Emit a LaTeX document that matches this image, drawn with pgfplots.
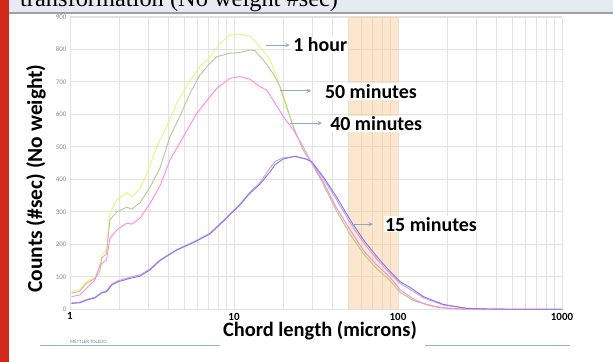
\documentclass[border=0pt]{standalone}
\usepackage{pgfplots}
\pgfplotsset{compat=1.18}
\usepackage{fontspec}
\setmainfont{Carlito}
\newfontfamily\titlefont{Liberation Serif}
\definecolor{cone}{RGB}{240,240,125}
\definecolor{cfifty}{RGB}{178,202,152}
\definecolor{cforty}{RGB}{255,135,240}
\definecolor{cfifteen}{RGB}{138,118,232}
\definecolor{clav}{RGB}{198,160,226}
\definecolor{arrowc}{RGB}{140,170,205}
\definecolor{shadec}{RGB}{250,200,140}
\definecolor{gridc}{RGB}{226,226,226}
\definecolor{redbar}{RGB}{210,40,26}
\definecolor{band}{RGB}{230,235,242}
\definecolor{linec}{RGB}{150,175,208}
\begin{document}
\begin{tikzpicture}
\useasboundingbox (0,0) rectangle (613bp,362bp);
\fill[white] (0,0) rectangle (613bp,362bp);
\fill[band] (0,349bp) rectangle (613bp,362bp);
\begin{scope}
\clip (0,349bp) rectangle (613bp,362bp);
\node[anchor=base west, inner sep=0] at (20bp,355.5bp) {\titlefont\fontsize{24.5}{24.5}\selectfont transformation (No weight \#sec)};
\end{scope}
\draw[gray!75, line width=1.6bp] (0,349bp) -- (613bp,349bp);
\fill[redbar] (0,0) rectangle (9bp,362bp);
% bottom decorations
\draw[linec, line width=0.9bp] (40bp,17bp) -- (220bp,17bp);
\draw[linec, line width=0.9bp] (425bp,17bp) -- (570bp,17bp);
\node[anchor=base west, inner sep=0, text=gray, font=\fontsize{5}{5}\selectfont] at (70bp,19bp) {METTLER TOLEDO};

\begin{axis}[
  at={(70bp,52.7bp)}, anchor=south west,
  scale only axis, width=492bp, height=292.5bp,
  xmode=log, xmin=1, xmax=1000, ymin=0, ymax=900,
  axis line style={gridc},
  grid=both, major grid style={gridc, line width=0.6bp}, minor grid style={gridc, line width=0.6bp},
  ytick={0,100,...,900}, minor y tick num=0,
  xtick={1,10,100,1000}, xticklabels={1,10,100,1000},
  major tick length=0pt, minor tick length=0pt,
  /pgf/number format/assume math mode=true,
  yticklabel style={font=\fontsize{7}{7}\selectfont, text=gray!90},
  xticklabel style={font=\bfseries\fontsize{11}{11}\selectfont, text=black},
  clip=false,
]
% shaded region 50-100 microns
\addplot[draw=none, fill=shadec, fill opacity=0.42] coordinates {(50,0) (50,900) (100,900) (100,0)} \closedcycle;

% 1 hour
\addplot[cone, line width=0.9bp] coordinates {
(1.02,54) (1.15,61) (1.26,85) (1.42,100) (1.52,126) (1.56,167) (1.67,182) (1.75,295) (1.93,336) (2.22,359) (2.38,346) (2.67,370) (2.94,418) (3.38,500) (3.89,562) (4.47,634) (5.40,705) (6.2,746) (7.14,777) (8.22,818) (9.45,844) (10.87,847) (12.5,841) (14.4,808) (16.6,767) (18.25,716) (20.0,644) (23.0,562) (26.4,490) (29.1,459) (35.0,388) (42.2,305) (51.1,234) (61.7,172) (74.3,126) (89.5,90) (103,54) (124,28) (157,12) (200,4) (260,1) (400,0) (1000,0)};
% 50 minutes
\addplot[cfifty, line width=0.9bp] coordinates {
(1.02,49) (1.15,56) (1.26,80) (1.42,95) (1.52,116) (1.56,157) (1.67,172) (1.75,275) (1.93,300) (2.22,314) (2.38,308) (2.67,328) (3.07,375) (3.54,435) (4.07,531) (4.67,593) (5.40,665) (6.2,721) (7.14,757) (7.85,777) (9.45,788) (10.87,790) (12.5,798) (13.4,796) (15.1,767) (17.3,726) (19.1,685) (21.0,623) (23.0,562) (26.4,490) (29.1,459) (35.0,385) (42.2,302) (51.1,230) (61.7,170) (74.3,124) (89.5,88) (103,52) (124,27) (157,11) (200,3) (260,1) (400,0) (1000,0)};
% 40 minutes
\addplot[cforty, line width=0.9bp] coordinates {
(1.02,39) (1.15,44) (1.26,65) (1.42,90) (1.52,136) (1.67,152) (1.75,218) (1.93,244) (2.22,265) (2.38,262) (2.67,280) (3.07,325) (3.54,380) (4.07,459) (4.91,531) (5.93,603) (7.14,654) (7.85,680) (8.6,695) (9.45,711) (10.87,716) (12.5,708) (14.4,685) (15.8,675) (17.3,644) (20.0,593) (23.0,552) (26.4,500) (29.1,459) (35.0,392) (42.2,312) (51.1,244) (61.7,180) (74.3,136) (89.5,98) (103,60) (124,32) (143,18) (175,6) (230,1) (300,0) (1000,0)};
% second curve close to 15 minutes
\addplot[clav, line width=0.9bp] coordinates {
(1.02,20) (1.15,22) (1.26,30) (1.42,37) (1.56,52) (1.67,57) (1.80,78) (1.97,88) (2.32,99) (2.67,106) (3.07,124) (3.54,152) (4.47,184) (5.65,207) (7.14,234) (9.0,283) (10.87,324) (12.5,360) (14.4,390) (16.6,435) (17.8,455) (19.9,466) (23.5,470) (27.8,461) (29.8,452) (35.0,402) (42.2,338) (51.1,266) (61.7,205) (74.3,154) (89.5,110) (103,80) (118,62) (143,35) (189,13) (262,3) (347,1) (500,0) (1000,0)};
% 15 minutes
\addplot[cfifteen, line width=0.9bp] coordinates {
(1.02,18) (1.15,20) (1.26,28) (1.42,35) (1.56,50) (1.67,54) (1.80,75) (1.97,85) (2.32,95) (2.67,102) (3.07,121) (3.54,150) (4.47,182) (5.65,205) (7.14,232) (9.0,280) (10.87,321) (12.5,357) (14.4,385) (16.6,423) (17.8,445) (19.9,462) (23.5,471) (27.8,462) (29.8,454) (35.0,408) (42.2,346) (51.1,275) (61.7,213) (74.3,162) (89.5,116) (103,85) (118,68) (143,39) (189,15) (262,3) (347,1) (500,0) (1000,0)};

% annotations
\draw[arrowc, line width=1bp, -stealth] (axis cs:15.6,813) -- (axis cs:21.9,813);
\node[anchor=west, fill=white, inner sep=1bp, font=\bfseries\fontsize{20}{20}\selectfont] at (axis cs:22.6,813) {1 hour};
\draw[arrowc, line width=1bp, -stealth] (axis cs:19.1,672) -- (axis cs:29.5,672);
\node[anchor=west, fill=white, inner sep=1bp, font=\bfseries\fontsize{20}{20}\selectfont] at (axis cs:35.3,670) {50 minutes};
\draw[arrowc, line width=1bp, -stealth] (axis cs:21.9,573) -- (axis cs:34.4,573);
\node[anchor=west, fill=white, inner sep=1bp, font=\bfseries\fontsize{20}{20}\selectfont] at (axis cs:38,570) {40 minutes};
\draw[arrowc, line width=1bp, -stealth] (axis cs:52.4,262) -- (axis cs:70.3,262);
\node[anchor=west, fill=white, inner sep=1bp, font=\bfseries\fontsize{20}{20}\selectfont] at (axis cs:82,262) {15 minutes};
\end{axis}

\node[rotate=90, font=\bfseries\fontsize{21.5}{21.5}\selectfont] at (36bp,183.5bp) {Counts (\#sec) (No weight)};
\node[font=\bfseries\fontsize{20.5}{20.5}\selectfont] at (320bp,31bp) {Chord length (microns)};
\end{tikzpicture}
\end{document}
